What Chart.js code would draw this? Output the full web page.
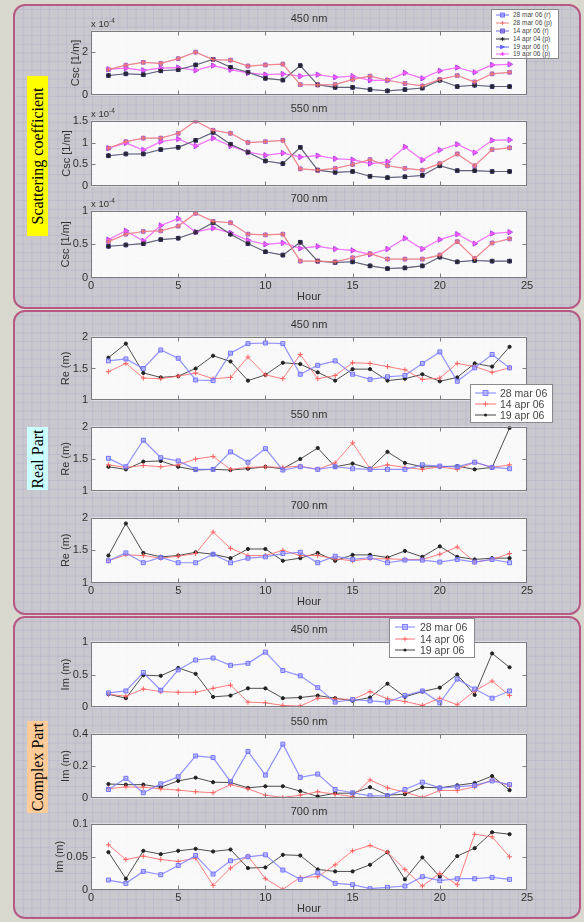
<!DOCTYPE html>
<html><head><meta charset="utf-8">
<script src="https://cdn.jsdelivr.net/npm/chart.js@4.4.0/dist/chart.umd.min.js"></script>
<style>
html,body{margin:0;padding:0;}
body{width:584px;height:922px;background:#d9d8ce;position:relative;overflow:hidden;font-family:"Liberation Sans",Arial,sans-serif;color:#3a3a3a;}
.panel{position:absolute;left:13px;width:568px;box-sizing:border-box;border:2px solid #b65a85;border-radius:12px;
 background-color:#c9c8ce;
 background-image:linear-gradient(rgba(120,110,190,0.13) 1px,transparent 1px),linear-gradient(90deg,rgba(120,110,190,0.13) 1px,transparent 1px);
 background-size:8.7px 8.7px;background-position:-1px 3px;}
.side{position:absolute;left:27px;width:21px;font-family:"Liberation Serif","Times New Roman",serif;font-size:16px;color:#000;}
.side span{position:absolute;left:50%;top:50%;white-space:nowrap;transform:translate(-50%,-50%) rotate(-90deg);}
.ttl{position:absolute;left:209px;width:200px;text-align:center;font-size:11px;line-height:12px;color:#333;}
.exp{position:absolute;left:91px;font-size:9.5px;line-height:10px;color:#333;}
.exp sup{font-size:6.5px;vertical-align:4px;}
.leg{position:absolute;background:#fff;border:1px solid #8a8a8a;box-sizing:border-box;}
.leg div{position:absolute;white-space:nowrap;color:#444;}
.leg svg{position:absolute;left:0;top:0;}
canvas{position:absolute;}
</style>
</head><body>
<div class="panel" style="top:4px;height:305px;"></div>
<div class="panel" style="top:310px;height:305px;"></div>
<div class="panel" style="top:616px;height:303px;"></div>
<div class="side" style="top:76px;height:160px;background:#ffff00;"><span>Scattering coefficient</span></div>
<div class="side" style="top:427px;height:63px;background:#ccffff;"><span>Real Part</span></div>
<div class="side" style="top:721px;height:92px;background:#ffcc99;"><span>Complex Part</span></div>
<script>
// ---------- data ----------
const hours = [1,2,3,4,5,6,7,8,9,10,11,12,13,14,15,16,17,18,19,20,21,22,23,24];
const xTicks = [0,5,10,15,20,25];
const wavelengths = ['450 nm','550 nm','700 nm'];
const dates = ['28 mar 06','14 apr 06','19 apr 06'];
const cscLegend = ['28 mar 06 (r)','28 mar 06 (p)','14 apr 06 (r)','14 apr 04 (p)','19 apr 06 (r)','19 apr 06 (p)'];

// Scattering coefficient, units of 1e-4 1/m
const csc450_28mar = [1.19,1.40,1.53,1.48,1.70,2.00,1.66,1.63,1.36,1.41,1.45,0.50,0.49,0.50,0.74,0.89,0.70,0.55,0.44,0.74,0.92,0.62,1.00,1.07];
const csc450_14apr = [0.92,1.00,0.96,1.14,1.19,1.41,1.67,1.30,1.07,0.79,0.71,1.38,0.49,0.37,0.37,0.27,0.21,0.27,0.34,0.70,0.41,0.47,0.41,0.41];
const csc450_19apr = [1.21,1.26,1.16,1.26,1.29,1.16,1.38,1.19,1.04,0.96,0.99,0.89,0.96,0.84,0.89,0.70,0.70,1.04,0.79,1.14,1.29,1.07,1.41,1.44];
const csc550_28mar = [0.87,1.02,1.10,1.10,1.21,1.49,1.28,1.21,1.00,1.02,1.05,0.40,0.37,0.41,0.50,0.61,0.47,0.41,0.37,0.52,0.74,0.47,0.84,0.88];
const csc550_14apr = [0.70,0.74,0.74,0.84,0.89,1.05,1.23,0.96,0.78,0.58,0.52,0.89,0.37,0.32,0.34,0.23,0.20,0.22,0.25,0.47,0.36,0.36,0.34,0.34];
const csc550_19apr = [0.87,0.99,0.83,1.02,1.08,0.92,1.10,0.92,0.78,0.71,0.76,0.67,0.70,0.63,0.61,0.52,0.56,0.90,0.60,0.83,0.96,0.77,1.05,1.06];
const csc700_28mar = [0.54,0.65,0.69,0.70,0.77,0.96,0.84,0.82,0.65,0.64,0.65,0.25,0.25,0.24,0.30,0.36,0.28,0.28,0.28,0.34,0.54,0.29,0.52,0.58];
const csc700_14apr = [0.47,0.49,0.51,0.57,0.59,0.68,0.82,0.65,0.51,0.39,0.34,0.53,0.25,0.23,0.24,0.18,0.14,0.15,0.18,0.31,0.24,0.26,0.25,0.25];
const csc700_19apr = [0.57,0.70,0.55,0.78,0.88,0.68,0.74,0.67,0.56,0.50,0.52,0.44,0.47,0.43,0.41,0.35,0.43,0.59,0.43,0.57,0.65,0.51,0.66,0.68];

// Real part of refractive index
const re450_28mar = [1.62,1.65,1.50,1.79,1.66,1.32,1.31,1.74,1.89,1.90,1.89,1.41,1.55,1.62,1.41,1.33,1.37,1.39,1.58,1.76,1.30,1.51,1.72,1.51];
const re450_14apr = [1.45,1.58,1.35,1.34,1.38,1.43,1.34,1.36,1.68,1.40,1.34,1.72,1.34,1.39,1.59,1.58,1.53,1.48,1.33,1.35,1.58,1.53,1.44,1.51];
const re450_19apr = [1.67,1.89,1.43,1.36,1.38,1.50,1.70,1.61,1.31,1.40,1.59,1.57,1.44,1.31,1.49,1.49,1.31,1.34,1.41,1.30,1.36,1.58,1.53,1.84];
const re550_28mar = [1.51,1.38,1.79,1.52,1.47,1.34,1.34,1.61,1.45,1.66,1.33,1.38,1.34,1.38,1.35,1.34,1.34,1.34,1.41,1.39,1.38,1.45,1.37,1.35];
const re550_14apr = [1.41,1.37,1.40,1.38,1.41,1.50,1.54,1.34,1.37,1.38,1.37,1.39,1.34,1.44,1.75,1.35,1.41,1.37,1.34,1.38,1.34,1.45,1.37,1.41];
const re550_19apr = [1.38,1.34,1.46,1.47,1.38,1.33,1.34,1.33,1.35,1.38,1.35,1.50,1.67,1.38,1.43,1.35,1.61,1.44,1.38,1.38,1.39,1.34,1.37,1.98];
const re700_28mar = [1.34,1.46,1.31,1.39,1.31,1.31,1.44,1.31,1.38,1.40,1.45,1.47,1.31,1.41,1.36,1.39,1.31,1.35,1.35,1.32,1.36,1.32,1.36,1.31];
const re700_14apr = [1.34,1.43,1.42,1.38,1.41,1.45,1.78,1.53,1.42,1.42,1.50,1.42,1.42,1.37,1.34,1.37,1.37,1.36,1.36,1.44,1.55,1.32,1.36,1.45];
const re700_19apr = [1.42,1.91,1.46,1.40,1.42,1.47,1.44,1.38,1.52,1.52,1.34,1.38,1.46,1.34,1.43,1.43,1.39,1.49,1.40,1.56,1.40,1.36,1.38,1.38];

// Imaginary part
const im450_28mar = [0.22,0.25,0.53,0.26,0.57,0.72,0.75,0.64,0.67,0.84,0.56,0.48,0.30,0.08,0.12,0.10,0.08,0.18,0.25,0.07,0.43,0.28,0.14,0.25];
const im450_14apr = [0.20,0.17,0.28,0.24,0.23,0.23,0.29,0.34,0.08,0.07,0.03,0.02,0.14,0.13,0.12,0.24,0.13,0.09,0.03,0.14,0.04,0.25,0.40,0.18];
const im450_19apr = [0.20,0.14,0.49,0.48,0.60,0.51,0.16,0.18,0.29,0.29,0.14,0.15,0.18,0.14,0.10,0.15,0.36,0.16,0.24,0.30,0.50,0.19,0.82,0.61];
const im550_28mar = [0.055,0.124,0.035,0.090,0.134,0.262,0.252,0.104,0.290,0.144,0.335,0.130,0.150,0.055,0.035,0.016,0.016,0.055,0.100,0.065,0.071,0.080,0.108,0.085];
const im550_14apr = [0.060,0.071,0.069,0.059,0.051,0.041,0.035,0.085,0.059,0.020,0.006,0.020,0.041,0.026,0.012,0.114,0.065,0.039,0.006,0.049,0.049,0.071,0.114,0.079];
const im550_19apr = [0.089,0.085,0.085,0.069,0.108,0.128,0.100,0.098,0.065,0.075,0.075,0.045,0.012,0.032,0.032,0.069,0.020,0.026,0.069,0.065,0.081,0.095,0.138,0.051];
const im700_28mar = [0.015,0.010,0.028,0.023,0.037,0.052,0.024,0.044,0.050,0.053,0.030,0.016,0.026,0.010,0.008,0.002,0.004,0.006,0.020,0.014,0.017,0.017,0.019,0.016];
const im700_14apr = [0.068,0.046,0.051,0.046,0.043,0.048,0.007,0.033,0.051,0.017,0.001,0.019,0.020,0.038,0.059,0.067,0.057,0.031,0.006,0.025,0.008,0.084,0.080,0.050];
const im700_19apr = [0.057,0.017,0.059,0.054,0.059,0.062,0.058,0.061,0.033,0.034,0.053,0.052,0.031,0.028,0.028,0.038,0.057,0.016,0.049,0.020,0.051,0.063,0.087,0.084];

// axis ranges and tick labels
const cscTicks = [[0,2],[0,0.5,1,1.5],[0,0.5,1]];
const cscRange = [[0,3],[0,1.5],[0,1]];
const reTicks = [1,1.5,2];
const reRange = [1,2];
const imTicks = [[0,0.5,1],[0,0.2,0.4],[0,0.05,0.1]];
const imRange = [[0,1],[0,0.4],[0,0.1]];

// ---------- layout / style ----------
const FONT = '"Liberation Sans", Arial, sans-serif';
const PLOTS = [
  {top:29,bottom:97,ytx:76},{top:119,bottom:188,ytx:67},{top:209,bottom:278,ytx:66},
  {top:335,bottom:402,ytx:66},{top:425,bottom:493,ytx:66},{top:516,bottom:583,ytx:66},
  {top:640,bottom:709,ytx:66},{top:732,bottom:800,ytx:66},{top:822,bottom:890,ytx:60}
];
const ST = {
  blue:{borderColor:'rgba(120,120,255,0.8)',borderWidth:1.2,pointStyle:'rect',pointRadius:2.8,pointBackgroundColor:'rgba(165,165,255,0.6)',pointBorderColor:'rgba(110,110,255,0.95)',pointBorderWidth:1},
  red:{borderColor:'rgba(255,105,105,0.85)',borderWidth:1,pointStyle:'cross',pointRadius:2.5,pointBorderColor:'#ff6060',pointBorderWidth:1},
  black:{borderColor:'rgba(60,60,60,0.9)',borderWidth:1,pointStyle:'circle',pointRadius:1.6,pointBackgroundColor:'#222',pointBorderColor:'#222',pointBorderWidth:1},
  r28:{borderColor:'rgba(120,110,255,0.35)',borderWidth:1,pointStyle:'rect',pointRadius:2.6,pointBackgroundColor:'rgba(185,110,205,0.8)',pointBorderColor:'rgba(150,90,200,0.9)',pointBorderWidth:1},
  p28:{borderColor:'rgba(245,125,130,0.9)',borderWidth:1.2,pointStyle:'cross',pointRadius:2.5,pointBorderColor:'#f07070',pointBorderWidth:1},
  r14:{borderColor:'rgba(100,100,255,0.35)',borderWidth:1,pointStyle:'rect',pointRadius:2.6,pointBackgroundColor:'rgba(60,55,140,0.85)',pointBorderColor:'#35327a',pointBorderWidth:1},
  p14:{borderColor:'rgba(85,88,100,0.9)',borderWidth:1.1,pointStyle:'star',pointRadius:2.3,pointBorderColor:'#222',pointBorderWidth:1},
  r19:{borderColor:'rgba(120,100,255,0.35)',borderWidth:1,pointStyle:'triangle',pointRotation:90,pointRadius:3,pointBackgroundColor:'rgba(165,70,235,0.85)',pointBorderColor:'#9a45e0',pointBorderWidth:1},
  p19:{borderColor:'rgba(255,100,255,0.85)',borderWidth:1.2,pointStyle:'cross',pointRadius:2.5,pointBorderColor:'#ff55ff',pointBorderWidth:1}
};

function pts(arr){ return hours.map((h,i)=>({x:h,y:arr[i]})); }
function ds(label, arr, st){ return Object.assign({label, data:pts(arr), tension:0, fill:false}, ST[st]); }

const framePlugin = {
  id:'frame',
  beforeDatasetsDraw(chart){
    const {ctx, chartArea:a} = chart;
    ctx.save(); ctx.fillStyle='rgba(255,255,255,0.88)';
    ctx.fillRect(a.left,a.top,a.right-a.left,a.bottom-a.top); ctx.restore();
  },
  afterDatasetsDraw(chart){
    const {ctx, chartArea:a} = chart; const x = chart.scales.x, y = chart.scales.y;
    const L=Math.round(a.left)+0.5, R=Math.round(a.right)-0.5, T=Math.round(a.top)+0.5, B=Math.round(a.bottom)-0.5;
    ctx.save(); ctx.strokeStyle='#7c7c80'; ctx.lineWidth=1;
    ctx.strokeRect(L,T,R-L,B-T);
    ctx.beginPath();
    xTicks.forEach(v=>{ const px=Math.round(x.getPixelForValue(v))+0.5; if(px<=L+1||px>=R-1) return; ctx.moveTo(px,B); ctx.lineTo(px,B-4); ctx.moveTo(px,T); ctx.lineTo(px,T+4); });
    y.ticks.forEach(t=>{ const py=Math.round(y.getPixelForValue(t.value))+0.5; if(py<=T+1||py>=B-1) return; ctx.moveTo(L,py); ctx.lineTo(L+4,py); ctx.moveTo(R,py); ctx.lineTo(R-4,py); });
    ctx.stroke(); ctx.restore();
  }
};

function makePlot(i, datasets, range, yTicks, yTitle, isBottom, title, exp){
  const g = PLOTS[i];
  const padTop=8, padBot=isBottom?0:8, xH=isBottom?27:0;
  const W=488, H=padTop+(g.bottom-g.top)+padBot+xH;
  const cv=document.createElement('canvas');
  cv.width=W; cv.height=H;
  cv.style.cssText=`left:51px;top:${g.top-padTop}px;width:${W}px;height:${H}px;`;
  document.body.appendChild(cv);
  const t=document.createElement('div'); t.className='ttl'; t.style.top=(g.top-17)+'px'; t.textContent=title; document.body.appendChild(t);
  if(exp){ const e=document.createElement('div'); e.className='exp'; e.style.top=(g.top-13)+'px'; e.innerHTML='x 10<sup>-4</sup>'; document.body.appendChild(e); }
  const font={family:FONT,size:11};
  new Chart(cv.getContext('2d'),{
    type:'line',
    data:{datasets},
    plugins:[framePlugin],
    options:{
      responsive:false, animation:false, devicePixelRatio:1,
      layout:{padding:{top:padTop,right:12,bottom:padBot,left:0}},
      plugins:{legend:{display:false},tooltip:{enabled:false},title:{display:false}},
      scales:{
        x:{type:'linear',min:0,max:25,display:isBottom,
           afterBuildTicks:s=>{s.ticks=xTicks.map(v=>({value:v}));},
           grid:{display:false,drawTicks:false},border:{display:false},
           ticks:{font,color:'#333',padding:1,maxRotation:0,autoSkip:false,callback:v=>String(v)},
           title:{display:isBottom,text:'Hour',font,color:'#333',padding:{top:0,bottom:1}},
           afterFit:s=>{s.height=isBottom?27:0;}},
        y:{type:'linear',min:range[0],max:range[1],
           afterBuildTicks:s=>{s.ticks=yTicks.map(v=>({value:v}));},
           grid:{display:false,drawTicks:false},border:{display:false},
           ticks:{font,color:'#333',padding:3,autoSkip:false,callback:v=>String(v)},
           title:{display:true,text:yTitle,font,color:'#333',padding:{top:g.ytx-51-6.6,bottom:0}},
           afterFit:s=>{s.width=40;}}
      }
    }
  });
}

// ---------- legends ----------
function markerSVG(kind, cx, cy, s, stroke, fill){
  if(kind==='rect') return `<rect x="${cx-s}" y="${cy-s}" width="${2*s}" height="${2*s}" fill="${fill}" stroke="${stroke}" stroke-width="0.8"/>`;
  if(kind==='cross') return `<path d="M${cx-s} ${cy}H${cx+s}M${cx} ${cy-s}V${cy+s}" stroke="${stroke}" stroke-width="0.9"/>`;
  if(kind==='circle') return `<circle cx="${cx}" cy="${cy}" r="${s*0.6}" fill="${fill}"/>`;
  if(kind==='star') return `<path d="M${cx-s} ${cy}H${cx+s}M${cx} ${cy-s}V${cy+s}M${cx-s*0.7} ${cy-s*0.7}L${cx+s*0.7} ${cy+s*0.7}M${cx-s*0.7} ${cy+s*0.7}L${cx+s*0.7} ${cy-s*0.7}" stroke="${stroke}" stroke-width="0.8"/>`;
  if(kind==='tri') return `<path d="M${cx-s} ${cy-s}L${cx+s} ${cy}L${cx-s} ${cy+s}Z" fill="${fill}" stroke="${stroke}" stroke-width="0.6"/>`;
  return '';
}
function legendBox(box, rows, items, lx0, lx1, tx, fs, ms){
  const d=document.createElement('div'); d.className='leg';
  d.style.cssText=`left:${box[0]}px;top:${box[1]}px;width:${box[2]}px;height:${box[3]}px;`;
  let svg=`<svg width="${box[2]}" height="${box[3]}" xmlns="http://www.w3.org/2000/svg">`;
  items.forEach((it,k)=>{
    const y=rows[k];
    svg+=`<line x1="${lx0}" y1="${y}" x2="${lx1}" y2="${y}" stroke="${it.line}" stroke-width="1"/>`;
    svg+=markerSVG(it.m,(lx0+lx1)/2,y,ms,it.stroke,it.fill);
  });
  svg+='</svg>';
  d.innerHTML=svg;
  items.forEach((it,k)=>{
    const t=document.createElement('div'); t.textContent=it.name;
    t.style.cssText=`left:${tx}px;top:${rows[k]-fs*0.6}px;font-size:${fs}px;line-height:${fs*1.2}px;`;
    d.appendChild(t);
  });
  document.body.appendChild(d);
}

// ---------- build ----------
const cscSets = [
  [csc450_28mar,csc450_14apr,csc450_19apr],
  [csc550_28mar,csc550_14apr,csc550_19apr],
  [csc700_28mar,csc700_14apr,csc700_19apr]
];
cscSets.forEach((s,k)=>{
  makePlot(k,[
    ds(cscLegend[1],s[0],'p28'), ds(cscLegend[3],s[1],'p14'), ds(cscLegend[5],s[2],'p19'),
    ds(cscLegend[0],s[0],'r28'), ds(cscLegend[2],s[1],'r14'), ds(cscLegend[4],s[2],'r19')
  ], cscRange[k], cscTicks[k], 'Csc [1/m]', k===2, wavelengths[k], true);
});
const reSets = [
  [re450_28mar,re450_14apr,re450_19apr],
  [re550_28mar,re550_14apr,re550_19apr],
  [re700_28mar,re700_14apr,re700_19apr]
];
reSets.forEach((s,k)=>{
  makePlot(3+k,[ds(dates[0],s[0],'blue'),ds(dates[1],s[1],'red'),ds(dates[2],s[2],'black')],
    reRange, reTicks, 'Re (m)', k===2, wavelengths[k], false);
});
const imSets = [
  [im450_28mar,im450_14apr,im450_19apr],
  [im550_28mar,im550_14apr,im550_19apr],
  [im700_28mar,im700_14apr,im700_19apr]
];
imSets.forEach((s,k)=>{
  makePlot(6+k,[ds(dates[0],s[0],'blue'),ds(dates[1],s[1],'red'),ds(dates[2],s[2],'black')],
    imRange[k], imTicks[k], 'Im (m)', k===2, wavelengths[k], false);
});

const legItems3 = [
  {name:dates[0],line:'#8080ff',m:'rect',stroke:'#7070ff',fill:'rgba(165,165,255,0.7)'},
  {name:dates[1],line:'#ff7070',m:'cross',stroke:'#ff6060',fill:'none'},
  {name:dates[2],line:'#444',m:'circle',stroke:'#222',fill:'#222'}
];
legendBox([470,384,83,39],[8,19,30],legItems3,4,25,29,10.5,2.5);
legendBox([389,618,86,40],[8,20,31],legItems3,5,25,30,10.5,2.5);
legendBox([491,9,68,50],[5,13,21,29,37,44],[
  {name:cscLegend[0],line:'#7070ff',m:'rect',stroke:'#6060ff',fill:'rgba(140,140,255,0.7)'},
  {name:cscLegend[1],line:'#f08080',m:'cross',stroke:'#f07070',fill:'none'},
  {name:cscLegend[2],line:'#7060e0',m:'rect',stroke:'#5a4fc8',fill:'rgba(120,100,230,0.7)'},
  {name:cscLegend[3],line:'#333',m:'star',stroke:'#222',fill:'none'},
  {name:cscLegend[4],line:'#6060ff',m:'tri',stroke:'#5050ff',fill:'#6a6aff'},
  {name:cscLegend[5],line:'#ff60ff',m:'star',stroke:'#ff40ff',fill:'none'}
],4,17,21,6.5,2);
</script>
</body></html>
